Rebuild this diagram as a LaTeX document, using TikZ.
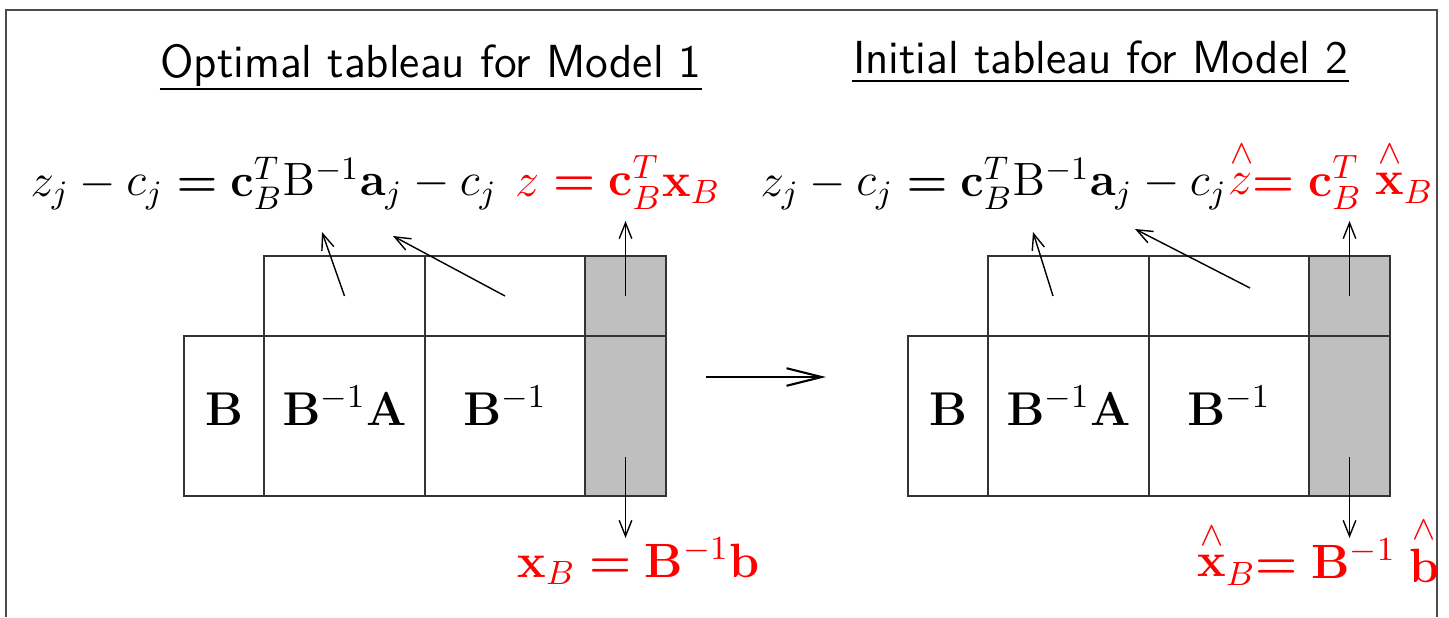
\RequirePackage{fix-cm}
\documentclass[tikz,border=0pt]{standalone}
\usepackage{amsmath}
\usetikzlibrary{arrows.meta}

\begin{document}
\begin{tikzpicture}[x=1cm,y=1cm,line width=0.4pt,>={Straight Barb[length=4.5pt,width=3.6pt]},
  cell/.style={draw=black!80,inner sep=0pt,outer sep=0pt,text height=0.18cm,text depth=0pt,
    font=\fontsize{13.5}{16}\selectfont},
  shadecell/.style={cell,fill=lightgray},
  formula/.style={inner sep=0pt,font=\fontsize{13.3}{16}\selectfont},
  result/.style={formula,red,font=\fontsize{13.7}{16}\selectfont},
  heading/.style={inner xsep=0pt,inner ysep=0.07cm,text depth=0pt,font=\sffamily\fontsize{13.2}{15}\selectfont},
  pointer/.style={->,black}]
  \useasboundingbox (0,0) rectangle (14.49,6.17);
  \draw[black!70,line width=0.6pt] (0.06,0) -- (0.06,6.07) -- (14.37,6.07) -- (14.37,0);

  % headings
  \node[heading,inner ysep=0.11cm,anchor=base] (headL) at (4.31,5.40) {Optimal tableau for Model 1};
  \draw[line width=0.6pt] (headL.south west) -- (headL.south east);
  \node[heading,anchor=base] (headR) at (11.005,5.44) {Initial tableau for Model 2};
  \draw[line width=0.6pt] (headR.south west) -- (headR.south east);

  % formulas
  \node[formula,anchor=base west] (costL) at (0.30,4.21) {$z_j-c_j\boldsymbol{=}\mathbf c_B^T\mathrm B^{-1}\mathbf a_j-c_j$};
  \node[result,anchor=base west] (objL) at (5.15,4.21) {$z\boldsymbol{=}\mathbf c_B^T\mathbf x_B$};
  \node[formula,anchor=base west] (costR) at (7.60,4.21) {$z_j-c_j\boldsymbol{=}\mathbf c_B^T\mathrm B^{-1}\mathbf a_j-c_j$};
  \node[result,anchor=base west] (objR) at (12.28,4.21) {$\stackrel{\wedge}{z}\boldsymbol{=}\mathbf c_B^T\stackrel{\wedge}{\mathbf x}_B$};
  \node[result,anchor=base] (rhsL) at (6.385,0.40) {$\mathbf x_B\boldsymbol{=}\mathbf B^{-1}\mathbf b$};
  \node[result,anchor=base] (rhsR) at (13.185,0.39) {$\stackrel{\wedge}{\mathbf x}_B\boldsymbol{=}\mathbf B^{-1}\stackrel{\wedge}{\mathbf b}$};

  % optimal tableau
  \node[cell,minimum width=1.61cm,minimum height=0.8cm] (tL1) at (3.445,3.21) {};
  \node[cell,minimum width=1.60cm,minimum height=0.8cm] (tL2) at (5.05,3.21) {};
  \node[shadecell,minimum width=0.81cm,minimum height=0.8cm] (tL3) at (6.255,3.21) {};
  \node[cell,minimum width=0.80cm,minimum height=1.6cm] (bL0) at (2.24,2.01) {$\mathbf B$};
  \node[cell,minimum width=1.61cm,minimum height=1.6cm] (bL1) at (3.445,2.01) {$\mathbf B^{-1}\mathbf A$};
  \node[cell,minimum width=1.60cm,minimum height=1.6cm] (bL2) at (5.05,2.01) {$\mathbf B^{-1}$};
  \node[shadecell,minimum width=0.81cm,minimum height=1.6cm] (bL3) at (6.255,2.01) {};

  % initial tableau
  \node[cell,minimum width=1.61cm,minimum height=0.8cm] (tR1) at (10.685,3.21) {};
  \node[cell,minimum width=1.60cm,minimum height=0.8cm] (tR2) at (12.29,3.21) {};
  \node[shadecell,minimum width=0.81cm,minimum height=0.8cm] (tR3) at (13.495,3.21) {};
  \node[cell,minimum width=0.80cm,minimum height=1.6cm] (bR0) at (9.48,2.01) {$\mathbf B$};
  \node[cell,minimum width=1.61cm,minimum height=1.6cm] (bR1) at (10.685,2.01) {$\mathbf B^{-1}\mathbf A$};
  \node[cell,minimum width=1.60cm,minimum height=1.6cm] (bR2) at (12.29,2.01) {$\mathbf B^{-1}$};
  \node[shadecell,minimum width=0.81cm,minimum height=1.6cm] (bR3) at (13.495,2.01) {};

  \coordinate (pL1) at (3.22,3.85);
  \coordinate (pL2) at (3.93,3.81);
  \coordinate (pL3) at (6.255,3.96);
  \coordinate (sL) at (6.255,1.60);
  \coordinate (pL4) at (6.255,0.79);
  \coordinate (pR1) at (10.33,3.85);
  \coordinate (pR2) at (11.35,3.88);
  \coordinate (pR3) at (13.495,3.96);
  \coordinate (sR) at (13.495,1.60);
  \coordinate (pR4) at (13.495,0.79);
  \draw[pointer] (tL1.center) -- (pL1);
  \draw[pointer] (tL2.center) -- (pL2);
  \draw[pointer] (tL3.center) -- (pL3);
  \draw[pointer] (sL) -- (pL4);
  \draw[pointer] ([xshift=-1.55mm]tR1.center) -- (pR1);
  \draw[pointer] ([xshift=2.1mm,yshift=0.8mm]tR2.center) -- (pR2);
  \draw[pointer] (tR3.center) -- (pR3);
  \draw[pointer] (sR) -- (pR4);

  % model change
  \coordinate (mA) at (7.06,2.40);
  \coordinate (mB) at (8.26,2.40);
  \draw[-{Straight Barb[length=10pt,width=5pt]},line width=0.6pt] (mA) -- (mB);
\end{tikzpicture}
\end{document}
